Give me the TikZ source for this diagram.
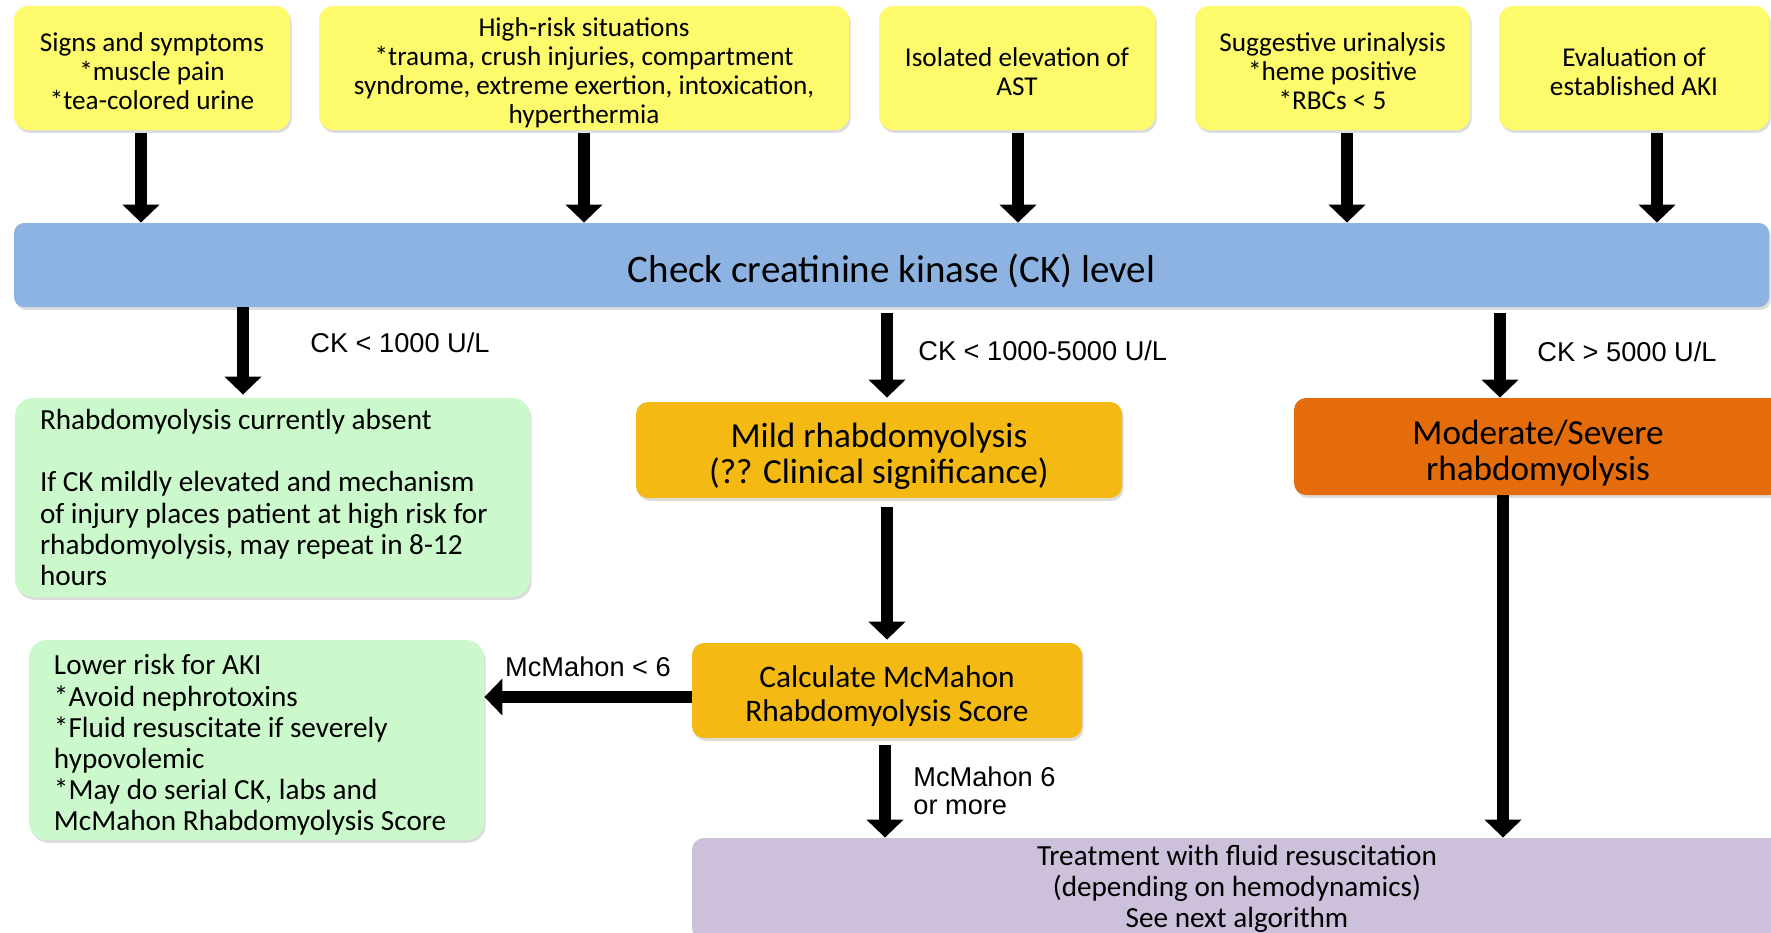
\documentclass[tikz,border=0pt]{standalone}
\usepackage{fontspec}
\setmainfont{Carlito}
\newfontfamily\arialf{Liberation Sans}
\usetikzlibrary{arrows.meta,shadows,calc}
\definecolor{cyel}{HTML}{FDFB6C}
\definecolor{cblue}{HTML}{8DB3E2}
\definecolor{cgreen}{HTML}{CCF9CC}
\definecolor{cgold}{HTML}{F5B914}
\definecolor{corange}{HTML}{E46C0A}
\definecolor{cpurple}{HTML}{CCC0DA}
\newcommand\fTop{\fontsize{13.6}{14.5}\selectfont}
\newcommand\fBar{\fontsize{19.5}{22}\selectfont}
\newcommand\fBody{\fontsize{14.6}{15.6}\selectfont}
\newcommand\fMid{\fontsize{17.6}{18}\selectfont}
\newcommand\fCalc{\fontsize{15.7}{17}\selectfont}
\newcommand\fLab{\arialf\fontsize{13.6}{14}\selectfont}
\newcommand\Sh{\rule{0pt}{1.05em}}
\newcommand\Shs{\rule{0pt}{0.95em}}
\begin{document}
\begin{tikzpicture}[x=0.5pt,y=-0.5pt,
  box/.style={rounded corners=6pt, draw=none, inner sep=0pt,
    drop shadow={shadow xshift=0.8pt,shadow yshift=-1.4pt,opacity=0.28}},
  topbox/.style={box, rounded corners=7pt, fill=cyel, align=center, font=\fTop, minimum height=62pt},
  greenbox/.style={box, rounded corners=9pt, fill=cgreen, align=flush left, font=\fBody, inner xsep=12.5pt},
  arr/.style={line width=6pt, -{Triangle[width=18pt,length=9pt]}},
  lab/.style={font=\fLab, inner sep=0pt, anchor=west, align=left}]
\useasboundingbox (0,0) rectangle (1771,932);
\clip (0,0) rectangle (1771,932);

% top boxes
\node[topbox, minimum width=138pt] (b1) at (152,68) {\Shs Signs and symptoms\\{}*muscle pain\\{}*tea-colored urine};
\node[topbox, minimum width=265pt] (b2) at (584,68) {\Sh High-risk situations\\{}*trauma, crush injuries, compartment\\syndrome, extreme exertion, intoxication,\\hyperthermia};
\node[topbox, minimum width=138pt] (b3) at (1017,68) {\Shs Isolated elevation of\\AST};
\node[topbox, minimum width=137.5pt] (b4) at (1332.5,68) {\Shs Suggestive urinalysis\\{}*heme positive\\{}*RBCs < 5};
\node[topbox, minimum width=135pt] (b5) at (1634,68) {\Shs Evaluation of\\established AKI};

% CK bar
\node[box, rounded corners=5pt, fill=cblue, font=\fBar, minimum width=877.5pt, minimum height=42pt] (ck) at (891.5,265) {\Sh Check creatinine kinase (CK) level};

% second row
\node[greenbox, text width=232.5pt, minimum height=99.5pt] (g1) at (272.5,497.5)
  {Rhabdomyolysis currently absent\\[15.6pt]\mbox{If CK mildly elevated and mechanism}\\\mbox{of injury places patient at high risk for}\\\mbox{rhabdomyolysis, may repeat in 8-12}\\hours};
\node[box, fill=cgold, align=center, font=\fMid, minimum width=243pt, minimum height=48pt] (mild) at (879,450)
  {\Sh Mild rhabdomyolysis\\(?? Clinical significance)};
\node[box, fill=corange, align=center, font=\fMid, minimum width=244pt, minimum height=48.5pt] (mod) at (1538,446.5)
  {\Sh Moderate/Severe\\rhabdomyolysis};

% third row
\node[box, fill=cgold, align=center, font=\fCalc, minimum width=195pt, minimum height=47.5pt] (calc) at (887,690.5)
  {\Sh Calculate McMahon\\Rhabdomyolysis Score};
\node[greenbox, text width=202.5pt, minimum height=100pt] (g2) at (256.5,740)
  {\Sh Lower risk for AKI\\{}*Avoid nephrotoxins\\\mbox{*Fluid resuscitate if severely}\\hypovolemic\\\mbox{*May do serial CK, labs and}\\\mbox{McMahon Rhabdomyolysis Score}};

% purple
\node[box, fill=cpurple, align=center, font=\fBody, minimum width=545pt, minimum height=51pt] (pur) at (1237,889)
  {Treatment with fluid resuscitation\\(depending on hemodynamics)\\See next algorithm};

% arrows top
\draw[arr] ($(b1.south)+(-11,3)$) -- ($(b1.south |- ck.north)+(-11,0)$);
\draw[arr] ($(b2.south)+(0,3)$) -- ($(b2.south |- ck.north)+(0,0)$);
\draw[arr] ($(b3.south)+(1,3)$) -- ($(b3.south |- ck.north)+(1,0)$);
\draw[arr] ($(b4.south)+(14.5,3)$) -- ($(b4.south |- ck.north)+(14.5,0)$);
\draw[arr] ($(b5.south)+(23,3)$) -- ($(b5.south |- ck.north)+(23,0)$);

% arrows from CK
\draw[arr] ($(g1.north |- ck.south)+(-29.5,0)$) -- ($(g1.north)+(-29.5,-3)$);
\draw[arr] ($(mild.north |- ck.south)+(8,6)$) -- ($(mild.north)+(8,-4)$);
\draw[arr] ($(mod.north |- ck.south)+(-38,6)$) -- ($(mod.north)+(-38,0)$);

% lower arrows
\draw[arr] ($(calc.north |- mild.south)+(0,9)$) -- ($(calc.north)+(0,-3)$);
\draw[arr] ($(calc.west)+(0,6.5)$) -- ($(calc.west -| g2.east)+(0,6.5)$);
\draw[arr] ($(calc.south)+(-2,7)$) -- ($(calc.south |- pur.north)+(-2,0)$);
\draw[arr] ($(mod.south)+(-35,0)$) -- ($(mod.south |- pur.north)+(-35,0)$);

% labels
\node[lab] (l1) at (310,343) {CK < 1000 U/L};
\node[lab] (l2) at (918,351) {CK < 1000-5000 U/L};
\node[lab] (l3) at (1537,352) {CK > 5000 U/L};
\node[lab, anchor=center] (l4) at (588,667) {McMahon < 6};
\node[lab] (l5) at (913,791) {McMahon 6\\or more};
\end{tikzpicture}
\end{document}
